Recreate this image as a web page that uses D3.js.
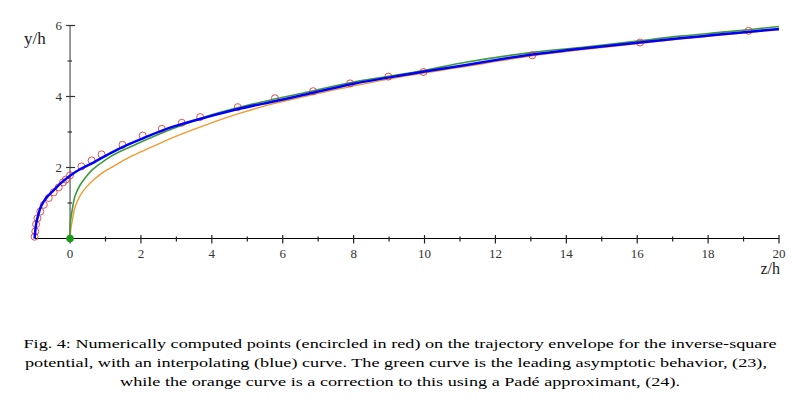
<!DOCTYPE html>
<html>
<head>
<meta charset="utf-8">
<script src="https://cdn.jsdelivr.net/npm/d3@7"></script>
<style>
  body { margin: 0; background: #fff; }
  svg { display: block; }
</style>
</head>
<body>
<div id="chart"></div>
<script>
// values: [z/h, y/h]
var pointsRed = [[-1,0.05],[-0.98,0.2],[-0.96,0.4],[-0.92,0.57],[-0.84,0.76],[-0.74,0.95],[-0.6,1.14],
    [-0.46,1.3],[-0.32,1.44],[-0.2,1.58],[-0.12,1.66],[0,1.78],[0.32,2.03],[0.61,2.2],[0.89,2.37],
    [1.48,2.64],[2.05,2.9],[2.59,3.09],[3.15,3.26],[3.67,3.42],[4.73,3.7],[5.78,3.95],[6.86,4.15],
    [7.9,4.37],[8.98,4.56],[9.97,4.69],[13.04,5.16],[16.08,5.52],[19.14,5.85]];

var blueCurve = [[-1,0],[-0.98,0.22],[-0.95,0.45],[-0.9,0.65],[-0.83,0.88],[-0.73,1.06],[-0.64,1.18],
    [-0.45,1.37],[-0.26,1.56],[0,1.77],[0.28,1.95],[0.66,2.14],[1.13,2.4],[1.6,2.63],[2.07,2.83],
    [2.91,3.15],[3.86,3.42],[4.8,3.66],[5.74,3.86],[6.48,4.02],[8,4.36],[9.5,4.62],[11,4.86],
    [12.15,5.05],[13.1,5.19],[14,5.3],[15,5.41],[16.27,5.54],[17.2,5.64],[18.15,5.73],[19.1,5.82],[20,5.9]];

var greenCurve = [[0,0],[0.01,0.45],[0.06,0.8],[0.14,1.2],[0.28,1.5],[0.42,1.7],[0.61,1.92],[0.85,2.11],
    [1.13,2.3],[1.41,2.45],[1.74,2.6],[2.16,2.79],[2.91,3.1],[3.86,3.44],[4.8,3.7],[5.74,3.92],
    [6.48,4.08],[8,4.41],[9.8,4.7],[11.2,4.97],[13.1,5.25],[14.4,5.38],[16,5.56],[17.2,5.7],[18.5,5.82],[20,5.97]];

var orangeCurve = [[0,0],[0.02,0.25],[0.05,0.43],[0.14,0.88],[0.28,1.2],[0.47,1.46],[0.66,1.65],[0.94,1.87],
    [1.27,2.06],[1.6,2.25],[1.97,2.43],[2.44,2.64],[2.91,2.85],[3.86,3.21],[4.8,3.53],[5.74,3.8],
    [6.48,3.97],[8,4.3],[9.5,4.58],[11,4.82],[13.1,5.15],[15,5.38],[17.2,5.62],[20,5.88]];

var originDot = [[0,0]];

var xTicks = d3.range(0, 21);      // labels on even ticks only
var yTicks = [1,2,3,4,5,6];

var captionLines = [
    "Fig. 4:  Numerically computed points (encircled in red) on the trajectory envelope for the inverse-square",
    "potential, with an interpolating (blue) curve.  The green curve is the leading asymptotic behavior, (23),",
    "while the orange curve is a correction to this using a Padé approximant, (24)."
];

var width = 809, height = 403;

var svg = d3.select("#chart").append("svg")
    .attr("width", width)
    .attr("height", height)
    .style("background", "#fff");

var x = d3.scaleLinear().domain([-1, 20]).range([34.6, 779]);
var y = d3.scaleLinear().domain([0, 6]).range([238.5, 25.5]);

var serif = "Liberation Serif, DejaVu Serif, serif";

// x axis
svg.append("line")
    .attr("x1", x(-1)).attr("x2", x(20))
    .attr("y1", y(0)).attr("y2", y(0))
    .style("stroke", "#000").style("stroke-width", 1.2);

svg.selectAll(".xtick")
    .data(xTicks)
    .enter().append("line")
    .attr("class", "xtick")
    .attr("x1", function(d) { return x(d); })
    .attr("x2", function(d) { return x(d); })
    .attr("y1", function(d) { return y(0) - (d % 2 == 0 ? 3.5 : 2); })
    .attr("y2", function(d) { return y(0) + (d % 2 == 0 ? 5 : 3); })
    .style("stroke", "#222").style("stroke-width", 1.2);

svg.selectAll(".xlab")
    .data(xTicks.filter(function(d) { return d % 2 == 0; }))
    .enter().append("text")
    .attr("class", "xlab")
    .attr("x", function(d) { return x(d); })
    .attr("y", 257.5)
    .attr("text-anchor", "middle")
    .attr("font-family", serif)
    .attr("font-size", 13)
    .attr("fill", "#333")
    .text(function(d) { return d; });

// y axis
svg.append("line")
    .attr("x1", x(0)).attr("x2", x(0))
    .attr("y1", y(0)).attr("y2", y(6))
    .style("stroke", "#555").style("stroke-width", 1.2);

svg.selectAll(".ytick")
    .data(yTicks)
    .enter().append("line")
    .attr("class", "ytick")
    .attr("x1", function(d) { return x(0) - (d % 2 == 0 ? 4 : 2.5); })
    .attr("x2", function(d) { return x(0) + (d % 2 == 0 ? 5 : 2); })
    .attr("y1", function(d) { return y(d); })
    .attr("y2", function(d) { return y(d); })
    .style("stroke", "#333").style("stroke-width", 1.2);

svg.selectAll(".ylab")
    .data(yTicks.filter(function(d) { return d % 2 == 0; }))
    .enter().append("text")
    .attr("class", "ylab")
    .attr("x", 62)
    .attr("y", function(d) { return y(d) + 4.5; })
    .attr("text-anchor", "end")
    .attr("font-family", serif)
    .attr("font-size", 13)
    .attr("fill", "#333")
    .text(function(d) { return d; });

// axis titles
svg.append("text")
    .attr("x", 24).attr("y", 43.5)
    .attr("font-family", serif)
    .attr("font-size", 17)
    .attr("fill", "#222")
    .text("y/h");

svg.append("text")
    .attr("x", 780).attr("y", 274)
    .attr("text-anchor", "end")
    .attr("font-family", serif)
    .attr("font-size", 16)
    .attr("fill", "#222")
    .text("z/h");

// curves
var line = d3.line()
    .x(function(d) { return x(d[0]); })
    .y(function(d) { return y(d[1]); })
    .curve(d3.curveCatmullRom.alpha(0.5));

svg.append("path")
    .datum(orangeCurve)
    .attr("d", line)
    .style("fill", "none")
    .style("stroke", "#f39a2e")
    .style("stroke-width", 1.4);

svg.append("path")
    .datum(greenCurve)
    .attr("d", line)
    .style("fill", "none")
    .style("stroke", "#3c9a3c")
    .style("stroke-width", 1.6);

svg.selectAll(".pt")
    .data(pointsRed)
    .enter().append("circle")
    .attr("class", "pt")
    .attr("cx", function(d) { return x(d[0]); })
    .attr("cy", function(d) { return y(d[1]); })
    .attr("r", 3.5)
    .style("fill", "none")
    .style("stroke", "#dd3333")
    .style("stroke-opacity", 0.85)
    .style("stroke-width", 1);

svg.append("path")
    .datum(blueCurve)
    .attr("d", line)
    .style("fill", "none")
    .style("stroke", "#0000ff")
    .style("stroke-width", 2.5);

svg.selectAll(".origin")
    .data(originDot)
    .enter().append("circle")
    .attr("class", "origin")
    .attr("cx", function(d) { return x(d[0]); })
    .attr("cy", function(d) { return y(d[1]); })
    .attr("r", 3.8)
    .style("fill", "#1a9a1a");

// caption
var capWidths = [753, 742, 560];
var capBase = [348, 367, 386];
svg.selectAll(".cap")
    .data(captionLines)
    .enter().append("text")
    .attr("class", "cap")
    .attr("x", function(d, i) { return i == 1 ? 396 : 400; })
    .attr("y", function(d, i) { return capBase[i]; })
    .attr("text-anchor", "middle")
    .attr("textLength", function(d, i) { return capWidths[i]; })
    .attr("lengthAdjust", "spacingAndGlyphs")
    .attr("font-family", serif)
    .attr("font-size", 13.5)
    .attr("fill", "#000")
    .text(function(d) { return d; });
</script>
</body>
</html>
